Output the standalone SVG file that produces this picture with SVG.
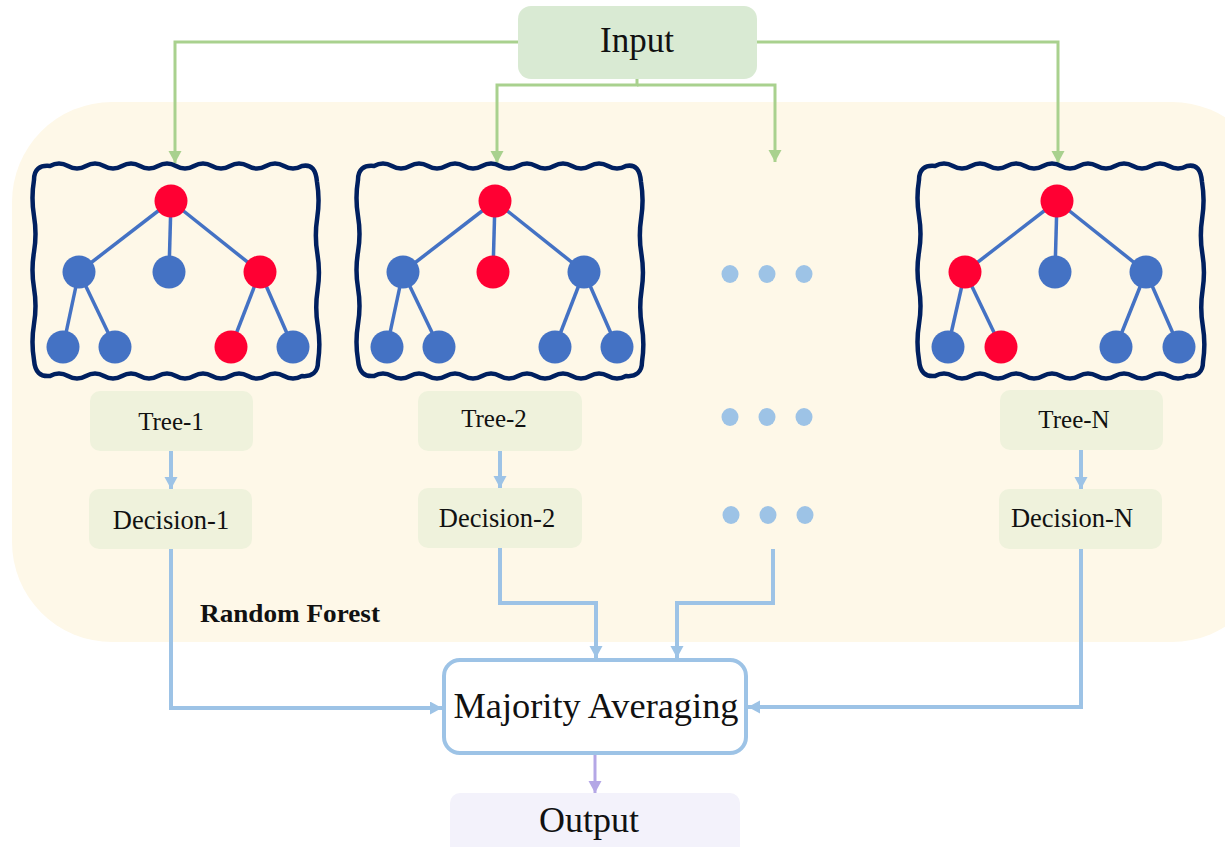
<svg xmlns="http://www.w3.org/2000/svg" width="1225" height="847" viewBox="0 0 1225 847">
  <defs>
    <style>
      .serif { font-family: "Liberation Serif", "Times New Roman", serif; fill: #111; }
      .flow-in { fill: none; stroke: #a9d18e; stroke-width: 3; }
      .flow { fill: none; stroke: #9dc3e6; stroke-width: 4; }
      .flow-out { fill: none; stroke: #b4a7e6; stroke-width: 3; }
      .label-box { fill: #eff2dc; }
      .frame { fill: none; stroke: #002060; stroke-width: 4.5; stroke-linejoin: round; }
      .edge { stroke: #4472c4; stroke-width: 3.5; }
      .leaf { fill: #4472c4; }
      .hot { fill: #ff0033; }
      .dot { fill: #9dc3e6; }
    </style>
    <marker id="arrow-green" markerUnits="userSpaceOnUse" markerWidth="13" markerHeight="14" refX="12" refY="6.5" orient="auto">
      <path d="M0,0 L12,6.5 L0,13 z" fill="#a9d18e"/>
    </marker>
    <marker id="arrow-blue" markerUnits="userSpaceOnUse" markerWidth="13" markerHeight="14" refX="12" refY="6.5" orient="auto">
      <path d="M0,0 L12,6.5 L0,13 z" fill="#9dc3e6"/>
    </marker>
    <marker id="arrow-purple" markerUnits="userSpaceOnUse" markerWidth="13" markerHeight="14" refX="12" refY="6.5" orient="auto">
      <path d="M0,0 L12,6.5 L0,13 z" fill="#b4a7e6"/>
    </marker>
    <!-- hand-drawn wavy frame around each tree -->
    <path id="wavy-frame" class="frame" d="M0,16 C0,5 6,1 16,2
      q9,-5 18,0 t18,0 t18,0 t18,0 t18,0 t18,0 t18,0 t18,0 t18,0 t18,0 t18,0 t18,0 t18,0 t18,0
      C278,0 282,6 283,18
      q3,18 0.2,36 t0.2,36 t0.2,36 t0.2,36 t0.2,36
      C284,208 278,213 268,212
      q-9,5 -18,0 t-18,0 t-18,0 t-18,0 t-18,0 t-18,0 t-18,0 t-18,0 t-18,0 t-18,0 t-18,0 t-18,0 t-18,0 t-18,0
      C6,213 1,208 0,196
      q-3,-18 0,-36 t0,-36 t0,-36 t0,-36 t0,-36 Z"/>
  </defs>

  <rect width="1225" height="847" fill="#ffffff"/>

  <!-- Random Forest container -->
  <g id="random-forest">
    <rect x="12" y="102" width="1260" height="540" rx="100" fill="#fef8e8"/>
    <text class="serif" x="200" y="622" font-size="25" font-weight="bold" textLength="180" lengthAdjust="spacingAndGlyphs">Random Forest</text>
  </g>

  <!-- connectors -->
  <g id="connectors">
    <path class="flow-in" d="M518,42 H175 V163" marker-end="url(#arrow-green)"/>
    <path class="flow-in" d="M757,42 H1058 V163" marker-end="url(#arrow-green)"/>
    <path class="flow-in" d="M637,79 V85 H497 V163" marker-end="url(#arrow-green)"/>
    <path class="flow-in" d="M637,85 H775 V162" marker-end="url(#arrow-green)"/>

    <path class="flow" d="M171,451 V489" marker-end="url(#arrow-blue)"/>
    <path class="flow" d="M500,451 V488" marker-end="url(#arrow-blue)"/>
    <path class="flow" d="M1081,450 V489" marker-end="url(#arrow-blue)"/>

    <path class="flow" d="M171,549 V708 H442" marker-end="url(#arrow-blue)"/>
    <path class="flow" d="M500,548 V603 H596 V658" marker-end="url(#arrow-blue)"/>
    <path class="flow" d="M773,549 V603 H677 V658" marker-end="url(#arrow-blue)"/>
    <path class="flow" d="M1081,549 V707 H748" marker-end="url(#arrow-blue)"/>

    <path class="flow-out" d="M595,755 V793" marker-end="url(#arrow-purple)"/>
  </g>

  <!-- Input -->
  <g id="input">
    <rect x="518" y="6" width="239" height="73" rx="13" fill="#d9ead3"/>
    <text class="serif" x="637" y="52" font-size="35" text-anchor="middle">Input</text>
  </g>

  <!-- Tree 1 -->
  <g id="tree-1">
    <use href="#wavy-frame" transform="translate(34,164)"/>
    <g class="edge">
      <line x1="171" y1="201" x2="79" y2="272"/>
      <line x1="171" y1="201" x2="169" y2="272"/>
      <line x1="171" y1="201" x2="260" y2="272"/>
      <line x1="79" y1="272" x2="63" y2="347"/>
      <line x1="79" y1="272" x2="115" y2="347"/>
      <line x1="260" y1="272" x2="231" y2="347"/>
      <line x1="260" y1="272" x2="293" y2="347"/>
    </g>
    <circle class="hot" cx="171" cy="201" r="16.5"/>
    <circle class="leaf" cx="79" cy="272" r="16.5"/>
    <circle class="leaf" cx="169" cy="272" r="16.5"/>
    <circle class="hot" cx="260" cy="272" r="16.5"/>
    <circle class="leaf" cx="63" cy="347" r="16.5"/>
    <circle class="leaf" cx="115" cy="347" r="16.5"/>
    <circle class="hot" cx="231" cy="347" r="16.5"/>
    <circle class="leaf" cx="293" cy="347" r="16.5"/>
  </g>

  <!-- Tree 2 -->
  <g id="tree-2">
    <use href="#wavy-frame" transform="translate(358,164)"/>
    <g class="edge">
      <line x1="495" y1="201" x2="403" y2="272"/>
      <line x1="495" y1="201" x2="493" y2="272"/>
      <line x1="495" y1="201" x2="584" y2="272"/>
      <line x1="403" y1="272" x2="387" y2="347"/>
      <line x1="403" y1="272" x2="439" y2="347"/>
      <line x1="584" y1="272" x2="555" y2="347"/>
      <line x1="584" y1="272" x2="617" y2="347"/>
    </g>
    <circle class="hot" cx="495" cy="201" r="16.5"/>
    <circle class="leaf" cx="403" cy="272" r="16.5"/>
    <circle class="hot" cx="493" cy="272" r="16.5"/>
    <circle class="leaf" cx="584" cy="272" r="16.5"/>
    <circle class="leaf" cx="387" cy="347" r="16.5"/>
    <circle class="leaf" cx="439" cy="347" r="16.5"/>
    <circle class="leaf" cx="555" cy="347" r="16.5"/>
    <circle class="leaf" cx="617" cy="347" r="16.5"/>
  </g>

  <!-- Tree N -->
  <g id="tree-n">
    <use href="#wavy-frame" transform="translate(919,164)"/>
    <g class="edge">
      <line x1="1057" y1="201" x2="965" y2="272"/>
      <line x1="1057" y1="201" x2="1055" y2="272"/>
      <line x1="1057" y1="201" x2="1146" y2="272"/>
      <line x1="965" y1="272" x2="948" y2="347"/>
      <line x1="965" y1="272" x2="1001" y2="347"/>
      <line x1="1146" y1="272" x2="1116" y2="347"/>
      <line x1="1146" y1="272" x2="1179" y2="347"/>
    </g>
    <circle class="hot" cx="1057" cy="201" r="16.5"/>
    <circle class="hot" cx="965" cy="272" r="16.5"/>
    <circle class="leaf" cx="1055" cy="272" r="16.5"/>
    <circle class="leaf" cx="1146" cy="272" r="16.5"/>
    <circle class="leaf" cx="948" cy="347" r="16.5"/>
    <circle class="hot" cx="1001" cy="347" r="16.5"/>
    <circle class="leaf" cx="1116" cy="347" r="16.5"/>
    <circle class="leaf" cx="1179" cy="347" r="16.5"/>
  </g>

  <!-- ellipsis between trees -->
  <g id="ellipsis">
    <ellipse class="dot" cx="730" cy="274" rx="8.5" ry="9"/>
    <ellipse class="dot" cx="767" cy="274" rx="8.5" ry="9"/>
    <ellipse class="dot" cx="804" cy="274" rx="8.5" ry="9"/>
    <ellipse class="dot" cx="730" cy="417" rx="8.5" ry="9"/>
    <ellipse class="dot" cx="767" cy="417" rx="8.5" ry="9"/>
    <ellipse class="dot" cx="804" cy="417" rx="8.5" ry="9"/>
    <ellipse class="dot" cx="731" cy="515" rx="8.5" ry="9"/>
    <ellipse class="dot" cx="768" cy="515" rx="8.5" ry="9"/>
    <ellipse class="dot" cx="805" cy="515" rx="8.5" ry="9"/>
  </g>

  <!-- tree labels -->
  <g id="tree-1-label">
    <rect class="label-box" x="90" y="391" width="163" height="60" rx="10"/>
    <text class="serif" x="171" y="430" font-size="25" text-anchor="middle">Tree-1</text>
  </g>
  <g id="tree-2-label">
    <rect class="label-box" x="418" y="391" width="164" height="60" rx="10"/>
    <text class="serif" x="494" y="427" font-size="25" text-anchor="middle">Tree-2</text>
  </g>
  <g id="tree-n-label">
    <rect class="label-box" x="1000" y="390" width="163" height="60" rx="10"/>
    <text class="serif" x="1074" y="428" font-size="25" text-anchor="middle">Tree-N</text>
  </g>

  <!-- decisions -->
  <g id="decision-1">
    <rect class="label-box" x="89" y="489" width="163" height="60" rx="10"/>
    <text class="serif" x="171" y="529" font-size="26.5" text-anchor="middle">Decision-1</text>
  </g>
  <g id="decision-2">
    <rect class="label-box" x="418" y="488" width="164" height="60" rx="10"/>
    <text class="serif" x="497" y="527" font-size="26.5" text-anchor="middle">Decision-2</text>
  </g>
  <g id="decision-n">
    <rect class="label-box" x="999" y="489" width="163" height="60" rx="10"/>
    <text class="serif" x="1072" y="527" font-size="26.5" text-anchor="middle">Decision-N</text>
  </g>

  <!-- Majority Averaging -->
  <g id="majority-averaging">
    <rect x="444" y="660" width="302" height="93" rx="16" fill="#ffffff" stroke="#9dc3e6" stroke-width="4"/>
    <text class="serif" x="596" y="718" font-size="35" text-anchor="middle" textLength="285" lengthAdjust="spacingAndGlyphs">Majority Averaging</text>
  </g>

  <!-- Output -->
  <g id="output">
    <rect x="450" y="793" width="290" height="70" rx="10" fill="#f3f2fb"/>
    <text class="serif" x="589" y="832" font-size="36" text-anchor="middle">Output</text>
  </g>
</svg>
